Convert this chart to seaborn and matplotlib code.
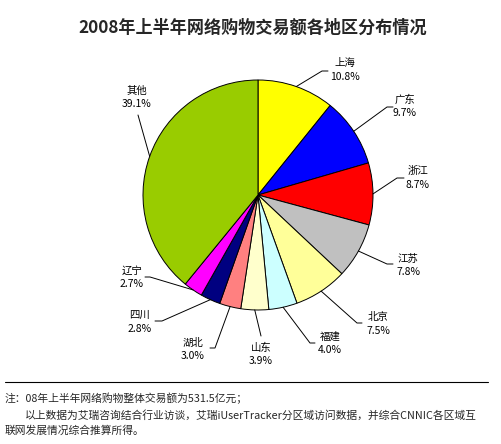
import numpy as np
import seaborn as sns
import matplotlib
matplotlib.use("Agg")
import matplotlib.pyplot as plt

# data
regions = ["上海", "广东", "浙江", "江苏", "北京", "福建", "山东", "湖北", "四川", "辽宁", "其他"]
shares = [10.8, 9.7, 8.7, 7.8, 7.5, 4.0, 3.9, 3.0, 2.8, 2.7, 39.1]
colors = ["#FFFF00", "#0000FF", "#FF0000", "#C0C0C0", "#FFFF99", "#CCFFFF",
          "#FFFFCC", "#FF8080", "#000080", "#FF00FF", "#99CC00"]

title = "2008年上半年网络购物交易额各地区分布情况"
note1 = "注：08年上半年网络购物整体交易额为531.5亿元；"
note2 = "以上数据为艾瑞咨询结合行业访谈，艾瑞iUserTracker分区域访问数据，并综合CNNIC各区域互"
note3 = "联网发展情况综合推算所得。"

# layout (pixels, y measured from top): knee of leader line, end x, label centre
knees = [(322, 71), (387, 107), (397, 178), (387, 264), (357, 323), (310, 343),
         (261, 336), (215, 348), (162, 321), (150, 277), (138, 115)]
ends_x = [328, 393, 404, 393, 362, 315, 261, 210, 155, 145, 138]
label_pos = [(345, 70), (405, 106), (418, 178), (408, 265), (378, 324), (330, 343),
             (261, 354), (193, 349), (140, 322), (132, 277), (137, 97)]

W, H = 501, 444
CX, CY, R = 258, 195, 115

sns.set_theme(style="white")
plt.rcParams["font.family"] = ["Noto Sans CJK SC", "DejaVu Sans"]


def fy(y):
    return H - y


fig = plt.figure(figsize=(W / 100, H / 100), dpi=100)
ax = fig.add_axes([0, 0, 1, 1])

wedges, _ = ax.pie(shares, colors=colors, startangle=90, counterclock=False,
                   center=(CX, fy(CY)), radius=R,
                   wedgeprops=dict(edgecolor="black", linewidth=0.7))

# leader lines + labels
cum = np.cumsum([0] + shares[:-1])
for i, (name, val) in enumerate(zip(regions, shares)):
    mid = np.deg2rad((cum[i] + val / 2) * 3.6)
    sx = CX + R * np.sin(mid)
    sy = CY - R * np.cos(mid)
    kx, ky = knees[i]
    ax.plot([sx, kx, ends_x[i]], [fy(sy), fy(ky), fy(ky)], color="black", lw=0.7)
    lx, ly = label_pos[i]
    ax.text(lx, fy(ly), f"{name}\n{val:.1f}%", ha="center", va="center",
            fontsize=7.5, linespacing=1.4, color="black")

ax.set_xlim(0, W)
ax.set_ylim(0, H)
ax.axis("off")

fig.text(0.505, 1 - 28 / H, title, ha="center", va="center", fontsize=12.3,
         fontweight="bold")

ax.plot([5, 488], [fy(382), fy(382)], color="black", lw=0.8)
fig.text(5 / W, 1 - 398 / H, note1, ha="left", va="center", fontsize=7.75)
fig.text(25 / W, 1 - 415 / H, note2, ha="left", va="center", fontsize=7.75)
fig.text(5 / W, 1 - 431 / H, note3, ha="left", va="center", fontsize=7.75)

fig.savefig("out.png", dpi=100, facecolor="white")
